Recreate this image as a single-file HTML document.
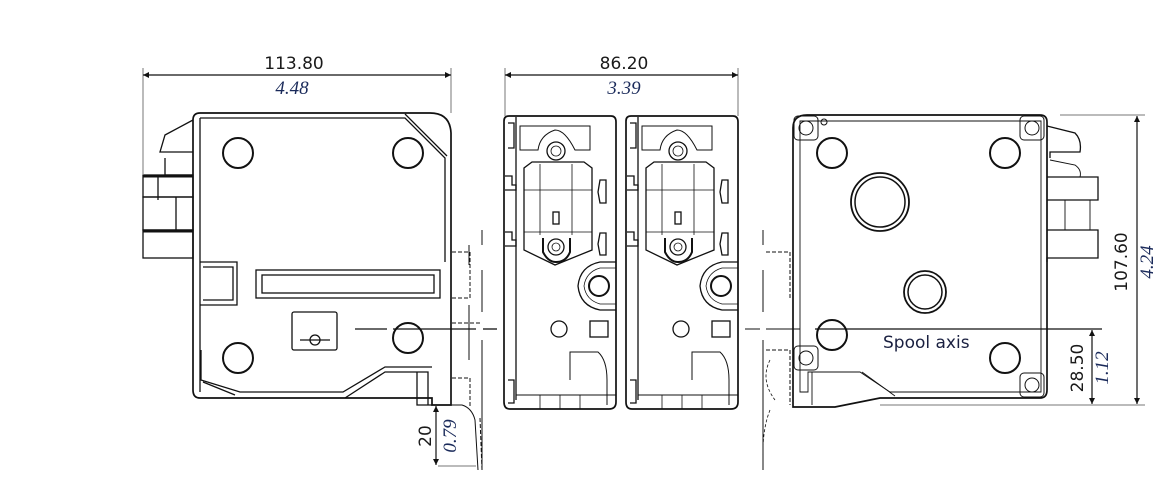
<!DOCTYPE html>
<html><head><meta charset="utf-8"><style>
html,body{margin:0;padding:0;background:#fff;}
svg{display:block;}
.d{font-family:"DejaVu Sans","Liberation Sans",sans-serif;font-size:17px;fill:#1a1a1a;}
.i{font-family:"Liberation Serif",serif;font-style:italic;font-size:19px;fill:#1a2a5a;}
</style></head><body>
<svg width="1167" height="493" viewBox="0 0 1167 493" xmlns="http://www.w3.org/2000/svg">
<defs>
<marker id="a" viewBox="0 0 10 10" refX="10" refY="5" markerWidth="12" markerHeight="6" orient="auto-start-reverse" markerUnits="userSpaceOnUse"><path d="M0,0 L10,5 L0,10 z" fill="#111"/></marker>
</defs>
<g fill="none" stroke="#111" stroke-width="1.3">
<!-- ===== LEFT VIEW ===== -->
<path d="M200,113 L430,113 Q450,113 451,133 L451,405 L432,405 L432,398 L200,398 Q193,398 193,390 L193,120 Q193,113 200,113 Z" stroke-width="1.7"/>
<path d="M200,118 L405,118 L445,158 L445,262" />
<path d="M405,114 L447,156" />
<path d="M200,118 L200,392"/>
<path d="M201,350 L201,380 L240,392 L343,392 L385,367 L432,367"/>
<path d="M203,382 L235,395 M345,398 L385,372 L428,372 L428,405"/>
<path d="M417,372 L417,405 L432,405"/>
<circle cx="238" cy="153" r="15" stroke-width="2"/>
<circle cx="408" cy="153" r="15" stroke-width="2"/>
<circle cx="238" cy="358" r="15" stroke-width="2"/>
<circle cx="408" cy="338" r="15" stroke-width="2"/>
<rect x="256" y="270" width="184" height="28"/>
<rect x="262" y="275" width="172" height="18"/>
<path d="M200,262 L237,262 L237,305 L200,305 M203,267 L233,267 L233,300 L203,300"/>
<rect x="292" y="312" width="45" height="38" rx="2"/>
<line x1="300" y1="340" x2="330" y2="340"/>
<circle cx="315" cy="340" r="5"/>
<!-- left connector -->
<path d="M193,120 L165,135 L160,152 L193,152"/>
<path d="M165,158 L165,175 L193,175 M158,175 L158,200"/>
<rect x="143" y="175" width="50" height="22"/>
<rect x="143" y="197" width="50" height="33"/>
<rect x="143" y="230" width="50" height="28"/>
<line x1="176" y1="197" x2="176" y2="230"/>
<line x1="143" y1="176" x2="193" y2="176" stroke-width="3"/>
<line x1="143" y1="231" x2="193" y2="231" stroke-width="3"/>
<!-- spool line left -->
<line x1="355" y1="329" x2="387" y2="329"/>
<line x1="393" y1="329" x2="476" y2="329"/>
<line x1="483" y1="329" x2="497" y2="329"/>
<g stroke-dasharray="4,2" stroke-width="1">
<path d="M452,252 L470,252 L470,298 L452,298"/>
<path d="M452,323 L482,323"/>
<path d="M452,378 L470,378 L470,407"/>
<path d="M480,418 L482,470"/>
</g>
<path d="M469,245 L469,265 M469,305 L469,360 M482,230 L482,245 M482,270 L482,312 M482,340 L482,470" stroke-width="1"/>
<path d="M451,405 L462,405 Q472,408 475,420 L478,470" stroke-width="1"/>
<!-- ===== MIDDLE VIEWS ===== -->
<g id="m">
<path d="M509,116 L611,116 Q616,116 616,122 L616,402 Q616,409 609,409 L510,409 Q504,409 504,402 L504,121 Q504,116 509,116 Z" stroke-width="1.7"/>
<path d="M516,117 L516,400 M508,123 L514,123 L514,148 L508,148 M508,380 L514,380 L514,403 L508,403"/>
<path d="M520,126 L590,126 L590,150 L575,150 Q565,130 555,130 Q540,135 538,150 L520,150 Z" stroke-width="1"/>
<circle cx="556" cy="151" r="9"/>
<circle cx="556" cy="151" r="5" stroke-width="0.8"/>
<path d="M524,168 L524,250 L555,265 L592,250 L592,168 L584,162 L532,162 Z"/>
<path d="M540,164 L540,235 M572,164 L572,235 M524,190 L592,190 M524,232 L592,232" stroke-width="0.8"/>
<rect x="553" y="212" width="6" height="12"/>
<path d="M543,238 L543,252 Q548,262 556,262 Q566,262 570,252 L570,238" stroke-width="2"/>
<circle cx="556" cy="247" r="8"/>
<circle cx="556" cy="247" r="4" stroke-width="0.8"/>
<path d="M505,176 L512,176 L512,185 L516,185 L516,190 L505,190"/>
<path d="M505,232 L512,232 L512,240 L516,240 L516,246 L505,246"/>
<path d="M600,180 L606,180 L606,203 L600,203 L598,192 Z"/>
<path d="M600,233 L606,233 L606,255 L600,255 L598,244 Z"/>
<circle cx="599" cy="286" r="10" stroke-width="2"/>
<path d="M616,262 L600,262 Q580,266 578,286 Q580,306 600,310 L616,310"/>
<path d="M616,268 L600,268 Q586,272 584,286 Q586,300 600,304 L616,304" stroke-width="0.8"/>
<circle cx="559" cy="329" r="8"/>
<rect x="590" y="321" width="18" height="16"/>
<path d="M570,380 L570,352 L598,352 Q607,360 607,380 L607,405 M516,395 L616,395" stroke-width="1"/>
<path d="M540,395 L540,409 M560,395 L560,409 M580,395 L580,409" stroke-width="0.8"/>
</g>
<use href="#m" transform="translate(122,0)"/>
<g stroke-width="1">
<path d="M763,230 L763,245 M763,270 L763,312 M763,340 L763,470 M745,329 L760,329 M766,329 L800,329"/>
<path d="M766,252 L790,252 L790,298 M766,350 L790,350 L790,405" stroke-dasharray="4,2"/>
<path d="M770,360 Q760,380 775,400 M770,410 Q762,430 763,460" stroke-dasharray="3,2" stroke-width="0.8"/>
</g>
<!-- ===== RIGHT VIEW ===== -->
<path d="M807,115 L1040,115 Q1047,115 1047,122 L1047,390 Q1047,398 1040,398 L880,398 L835,407 L793,407 L793,128 Q793,115 807,115 Z" stroke-width="1.7"/>
<path d="M800,121 L1041,121 L1041,392 L890,392 L860,372 L808,372 L808,392 L800,392 Z" stroke-width="0.9"/>
<path d="M812,372 L812,405 M862,372 L895,396" stroke-width="0.9"/>
<circle cx="832" cy="153" r="15" stroke-width="2"/>
<circle cx="1005" cy="153" r="15" stroke-width="2"/>
<circle cx="832" cy="335" r="15" stroke-width="2"/>
<circle cx="1005" cy="358" r="15" stroke-width="2"/>
<circle cx="880" cy="202" r="29" stroke-width="1.8"/>
<circle cx="880" cy="202" r="25" stroke-width="1.5"/>
<circle cx="925" cy="292" r="21" stroke-width="1.8"/>
<circle cx="925" cy="292" r="17" stroke-width="1.5"/>
<g stroke-width="1">
<rect x="794" y="116" width="24" height="24" rx="4"/><circle cx="806" cy="128" r="7"/>
<rect x="1020" y="116" width="24" height="24" rx="4"/><circle cx="1032" cy="128" r="7"/>
<rect x="794" y="346" width="24" height="24" rx="4"/><circle cx="806" cy="358" r="7"/>
<rect x="1020" y="373" width="24" height="24" rx="4"/><circle cx="1032" cy="385" r="7"/>
<circle cx="824" cy="122" r="3"/>
</g>
<path d="M1047,126 L1075,133 Q1082,140 1080,152 L1050,152 L1050,158"/>
<path d="M1047,177 L1098,177 L1098,200 L1047,200 M1047,230 L1098,230 L1098,258 L1047,258 L1047,262"/>
<path d="M1050,200 L1090,200 L1090,230 L1050,230 M1065,200 L1065,230" stroke-width="0.9"/>
<path d="M1050,160 L1075,165 Q1082,170 1080,177" stroke-width="0.9"/>
<line x1="815" y1="329" x2="1102" y2="329"/>
</g>
<g stroke="#777" stroke-width="1" fill="none">
<line x1="143" y1="68" x2="143" y2="175"/>
<line x1="451" y1="68" x2="451" y2="113"/>
<line x1="505" y1="68" x2="505" y2="116"/>
<line x1="738" y1="68" x2="738" y2="116"/>
<line x1="1060" y1="115" x2="1145" y2="115"/>
<line x1="880" y1="405" x2="1145" y2="405"/>
<line x1="438" y1="466" x2="476" y2="466"/>
</g>
<g stroke="#111" stroke-width="1.2">
<line x1="143" y1="75" x2="451" y2="75" marker-start="url(#a)" marker-end="url(#a)"/>
<line x1="505" y1="75" x2="738" y2="75" marker-start="url(#a)" marker-end="url(#a)"/>
<line x1="1137" y1="116" x2="1137" y2="404" marker-start="url(#a)" marker-end="url(#a)"/>
<line x1="1092" y1="330" x2="1092" y2="404" marker-start="url(#a)" marker-end="url(#a)"/>
<line x1="436" y1="406" x2="436" y2="465" marker-start="url(#a)" marker-end="url(#a)"/>
</g>
<text class="d" x="294" y="69" text-anchor="middle">113.80</text>
<text class="i" x="292" y="94" text-anchor="middle">4.48</text>
<text class="d" x="624" y="69" text-anchor="middle">86.20</text>
<text class="i" x="624" y="94" text-anchor="middle">3.39</text>
<text class="d" x="883" y="348" style="fill:#1a2040">Spool axis</text>
<text class="d" transform="translate(1127,262) rotate(-90)" text-anchor="middle">107.60</text>
<text class="i" transform="translate(1153,262) rotate(-90)" text-anchor="middle">4.24</text>
<text class="d" transform="translate(1083,368) rotate(-90)" text-anchor="middle">28.50</text>
<text class="i" transform="translate(1108,368) rotate(-90)" text-anchor="middle">1.12</text>
<text class="d" transform="translate(431,436) rotate(-90)" text-anchor="middle">20</text>
<text class="i" transform="translate(456,436) rotate(-90)" text-anchor="middle">0.79</text>
</svg>
</body></html>
